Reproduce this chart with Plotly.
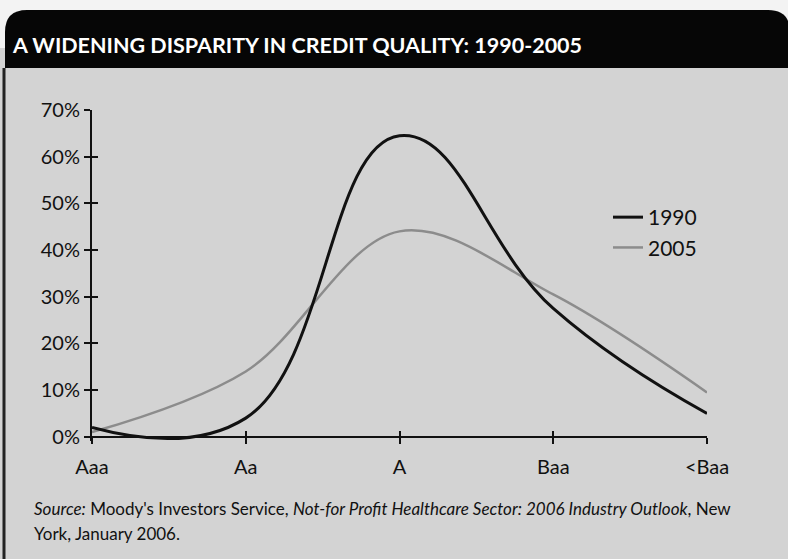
import plotly.graph_objects as go

categories = ["Aaa", "Aa", "A", "Baa", "<Baa"]
y1990 = [2, 4, 64.5, 27.5, 5]
y2005 = [1, 14, 44, 30.5, 9.5]
yticks = [0, 10, 20, 30, 40, 50, 60, 70]
title_text = "A WIDENING DISPARITY IN CREDIT QUALITY: 1990-2005"
source_line1 = "<i>Source:</i> Moody's Investors Service, <i>Not-for Profit Healthcare Sector: 2006 Industry Outlook</i>, New"
source_line2 = "York, January 2006."

W, H = 788, 559
L, R, T, B = 92, 81, 110, 118
YMIN, YMAX = -0.9, 70
PW = W - L - R
PH = H - T - B

def px(x):
    return (x - L) / PW

def py(y):
    return (H - B - y) / PH

FONT = "Lato"
PANEL = "#d3d3d3"

fig = go.Figure()
fig.add_trace(go.Scatter(x=list(range(len(categories))), y=y2005, name="2005", mode="lines",
                         line=dict(color="#8c8c8c", width=2.5, shape="spline", smoothing=1)))
fig.add_trace(go.Scatter(x=list(range(len(categories))), y=y1990, name="1990", mode="lines",
                         line=dict(color="#111111", width=3, shape="spline", smoothing=1.25)))

x0_frac = (0 - YMIN) / (YMAX - YMIN)

fig.update_layout(
    width=W, height=H,
    margin=dict(l=L, r=R, t=T, b=B),
    paper_bgcolor=PANEL, plot_bgcolor="rgba(0,0,0,0)",
    font=dict(family=FONT, color="#111111"),
    showlegend=True,
    legend=dict(x=px(608), y=py(197), xanchor="left", yanchor="top",
                bgcolor="rgba(0,0,0,0)", font=dict(size=21, color="#111111"),
                traceorder="reversed", itemwidth=30),
    xaxis=dict(range=[0, 4], tickvals=list(range(len(categories))), ticktext=categories,
               anchor="free", position=x0_frac, showline=True, linecolor="#111111", linewidth=2,
               ticks="outside", ticklen=6, tickwidth=2, tickcolor="#111111", ticklabelstandoff=6,
               showgrid=False, zeroline=False, tickfont=dict(size=20, color="#111111")),
    yaxis=dict(range=[YMIN, YMAX], tickvals=yticks, ticktext=[f"{v}%" for v in yticks],
               showline=True, linecolor="#111111", linewidth=2,
               ticks="outside", ticklen=6, tickwidth=2, tickcolor="#111111",
               showgrid=False, zeroline=False, tickfont=dict(size=20, color="#111111")),
    xaxis2=dict(range=[0, 4], tickvals=list(range(len(categories))), overlaying="x",
                anchor="free", position=x0_frac, showline=False, ticks="inside", ticklen=6,
                tickwidth=2, tickcolor="#111111", showticklabels=False, showgrid=False, zeroline=False),
    yaxis2=dict(range=[YMIN, YMAX], tickvals=yticks, overlaying="y", showline=False,
                ticks="inside", ticklen=6, tickwidth=2, tickcolor="#111111",
                showticklabels=False, showgrid=False, zeroline=False),
)
# invisible trace to activate the secondary (inner tick) axes
fig.add_trace(go.Scatter(x=[0], y=[0], xaxis="x2", yaxis="y2", mode="markers",
                         marker=dict(opacity=0), showlegend=False, hoverinfo="skip"))

# header decoration
r = 22
hx0, hx1, hy0, hy1 = 5, 790, 10, 68
path = (f"M {px(hx0)},{py(hy1)} L {px(hx0)},{py(hy0 + r)} "
        f"Q {px(hx0)},{py(hy0)} {px(hx0 + r)},{py(hy0)} "
        f"L {px(hx1 - r)},{py(hy0)} Q {px(hx1)},{py(hy0)} {px(hx1)},{py(hy0 + r)} "
        f"L {px(hx1)},{py(hy1)} Z")
fig.add_shape(type="rect", xref="paper", yref="paper", x0=px(0), x1=px(W), y0=py(0), y1=py(hy1 - 20),
              fillcolor="#f3f3f3", line=dict(width=0), layer="below")
fig.add_shape(type="path", xref="paper", yref="paper", path=path, fillcolor="#060606",
              line=dict(width=0), layer="below")
fig.add_shape(type="line", xref="paper", yref="paper", x0=px(4), x1=px(4), y0=py(hy1), y1=py(H),
              line=dict(color="#222222", width=3), layer="below")

fig.add_annotation(xref="paper", yref="paper", x=px(10), y=py(45), xanchor="left", yanchor="middle",
                   text=f"<b>{title_text}</b>", showarrow=False,
                   font=dict(family=FONT, size=21.5, color="#ffffff"))
fig.add_annotation(xref="paper", yref="paper", x=px(32), y=py(508), xanchor="left", yanchor="middle",
                   text=source_line1, showarrow=False, font=dict(family=FONT, size=17, color="#111111"))
fig.add_annotation(xref="paper", yref="paper", x=px(32), y=py(533), xanchor="left", yanchor="middle",
                   text=source_line2, showarrow=False, font=dict(family=FONT, size=17, color="#111111"))

fig.write_html("out.html")
